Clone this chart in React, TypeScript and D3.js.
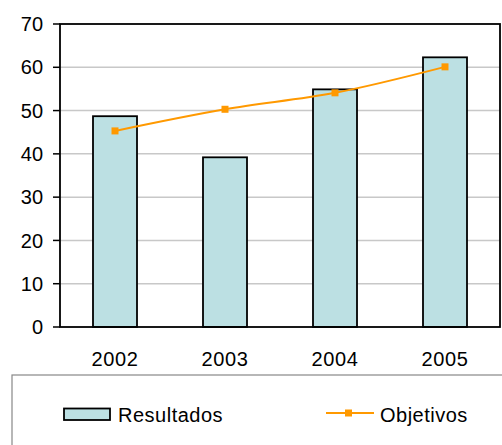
import React from "react";
import * as d3 from "d3";

const categories = ["2002", "2003", "2004", "2005"];
const resultados = [48.7, 39.2, 54.9, 62.3];
const objetivos = [45.3, 50.3, 54.1, 60.1];
const yTicks = [0, 10, 20, 30, 40, 50, 60, 70];

const W = 502, H = 445;
const L = 60, R = 500, T = 24, B = 327;
const FONT = "'Liberation Sans', Arial, sans-serif";

export default function App() {
  const y = d3.scaleLinear().domain([0, 70]).range([B, T]);
  const band = d3.scaleBand<string>().domain(categories).range([L, R]);
  const cx = (c: string) => band(c)! + band.bandwidth() / 2;
  const line = d3.line<number>().x((_, i) => cx(categories[i])).y((d) => y(d)).curve(d3.curveCatmullRom.alpha(0.5));
  const bw = band.bandwidth() * 0.4;
  return (
    <svg width={W} height={H} style={{ position: "absolute", left: 0, top: 0, display: "block", fontFamily: FONT }}>
      <rect x={0} y={0} width={W} height={H} fill="#fff" />
      {yTicks.filter((t) => t > 0 && t < 70).map((t) => (
        <line key={t} x1={L} x2={R} y1={y(t)} y2={y(t)} stroke="#c8c8c8" strokeWidth={1.5} />
      ))}
      {categories.map((c, i) => (
        <rect key={c} x={cx(c) - bw / 2} y={y(resultados[i])} width={bw} height={B - y(resultados[i])}
          fill="#bce0e3" stroke="#000" strokeWidth={1.8} />
      ))}
      <rect x={L} y={T} width={R - L} height={B - T} fill="none" stroke="#000" strokeWidth={1.8} />
      {yTicks.map((t) => (
        <g key={t}>
          <line x1={L - 7} x2={L} y1={y(t)} y2={y(t)} stroke="#000" strokeWidth={1.5} />
          <text x={43.5} y={y(t)} dy="0.36em" textAnchor="end" fontSize={20} letterSpacing={0.3} fill="#000">{t}</text>
        </g>
      ))}
      {categories.map((c) => (
        <text key={c} x={cx(c)} y={366} textAnchor="middle" fontSize={20} letterSpacing={0.6} fill="#000">{c}</text>
      ))}
      <path d={line(objetivos) || ""} fill="none" stroke="#ff9900" strokeWidth={2} />
      {categories.map((c, i) => (
        <rect key={c} x={cx(c) - 3.5} y={y(objetivos[i]) - 3.5} width={7} height={7} fill="#ff9900" />
      ))}
      <rect x={12} y={375} width={W} height={H} fill="#fff" stroke="#888" strokeWidth={1.2} />
      <rect x={64} y={408.5} width={46} height={11.5} fill="#bce0e3" stroke="#000" strokeWidth={1.8} />
      <text x={118} y={422} fontSize={20} letterSpacing={0.5} fill="#000">Resultados</text>
      <line x1={326} x2={374} y1={413} y2={413} stroke="#ff9900" strokeWidth={2} />
      <rect x={345} y={409.5} width={7} height={7} fill="#ff9900" />
      <text x={380} y={422} fontSize={20} letterSpacing={0.5} fill="#000">Objetivos</text>
    </svg>
  );
}
